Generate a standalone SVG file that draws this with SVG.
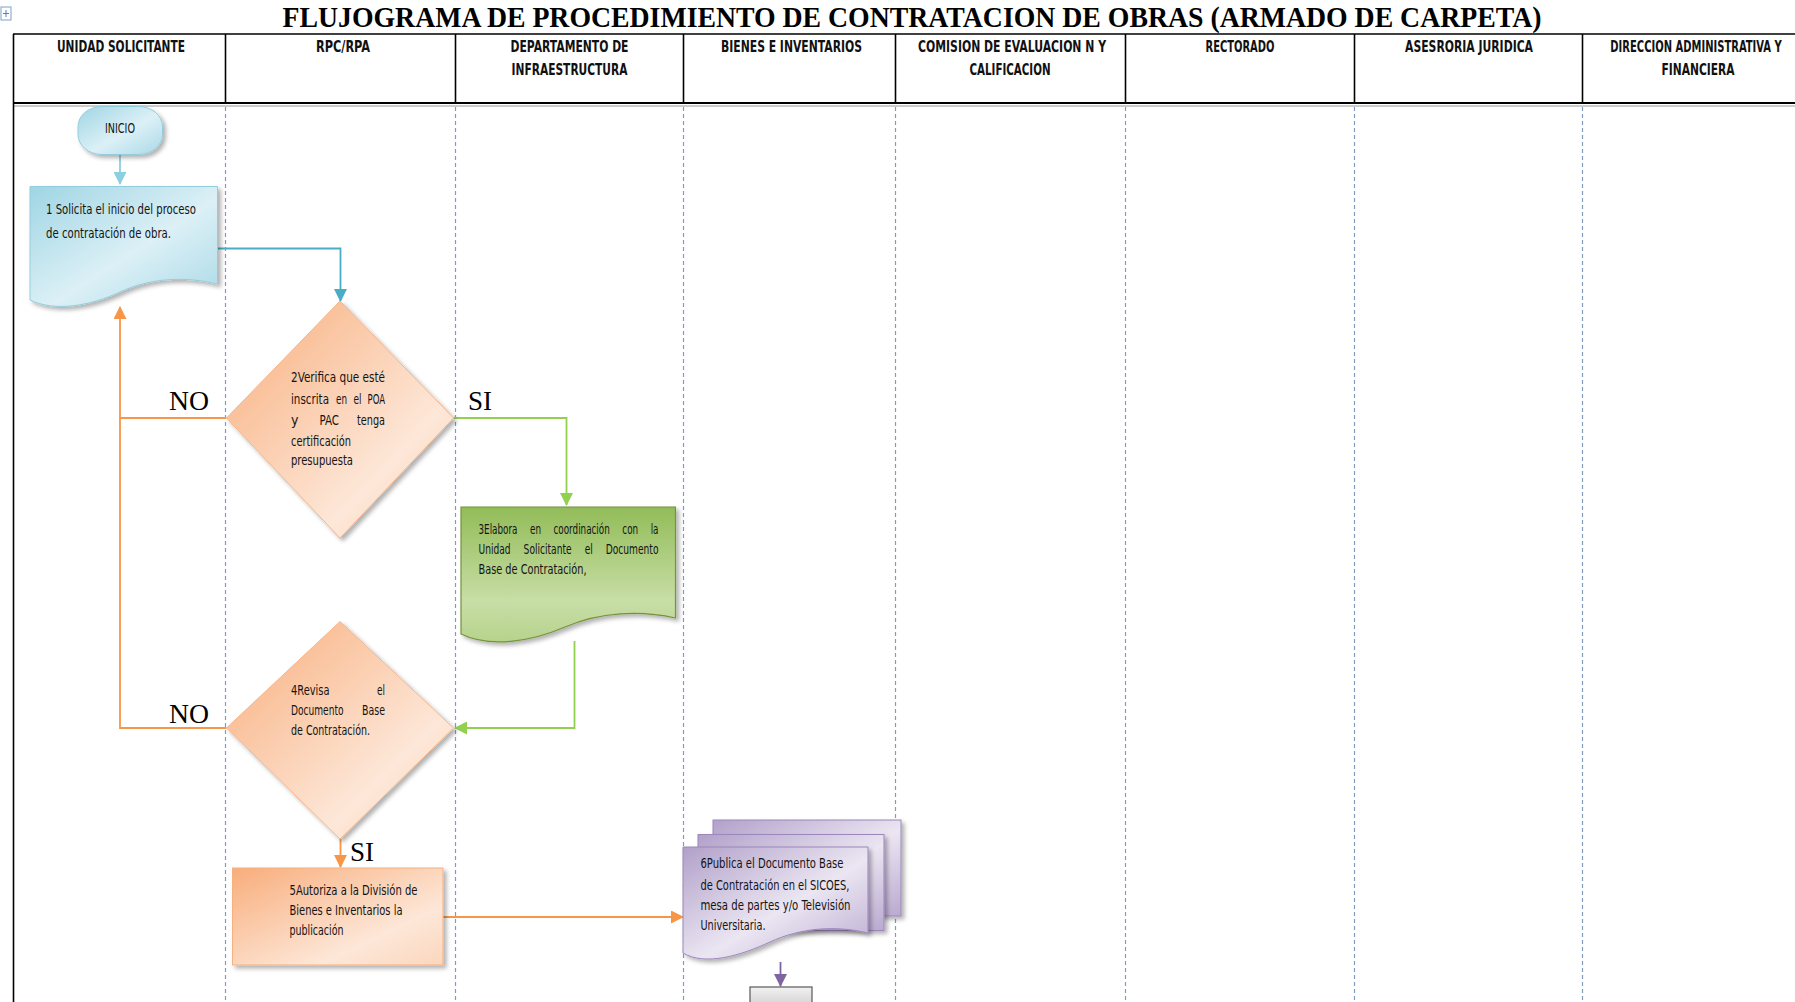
<svg xmlns="http://www.w3.org/2000/svg" width="1795" height="1002" viewBox="0 0 1795 1002">
  <style>
    .title { font-family: "Liberation Serif", "Times New Roman", serif; font-weight: bold; font-size: 30px; fill: #000; }
    .hdr { font-family: "Liberation Sans Narrow", "DejaVu Sans Condensed", "Liberation Sans", sans-serif; font-weight: bold; font-size: 15px; fill: #111; text-anchor: middle; }
    .txt { font-family: "Liberation Sans Narrow", "DejaVu Sans Condensed", "Liberation Sans", sans-serif; font-size: 14px; fill: #141414; }
    .just { word-spacing: 14px; }
    .lbl { font-family: "Liberation Serif", "Times New Roman", serif; font-size: 28px; fill: #000; }
    .lane { stroke: #8299c2; stroke-width: 1.2; stroke-dasharray: 4 3; fill: none; }
    .grid { stroke: #000; stroke-width: 1.6; fill: none; }
    .c-blue { stroke: #4bacc6; stroke-width: 1.8; fill: none; }
    .c-lblue { stroke: #8ccfe0; stroke-width: 1.8; fill: none; }
    .c-orange { stroke: #f79646; stroke-width: 1.8; fill: none; }
    .c-green { stroke: #92d050; stroke-width: 1.8; fill: none; }
    .c-purple { stroke: #8064a2; stroke-width: 1.8; fill: none; }
  </style>
  <defs>
    <linearGradient id="gBlue" x1="0" y1="0" x2="1" y2="1">
      <stop offset="0" stop-color="#9fd5e4"/>
      <stop offset="0.55" stop-color="#dcf0f6"/>
      <stop offset="1" stop-color="#a9d9e7"/>
    </linearGradient>
    <linearGradient id="gOrange" x1="0" y1="0" x2="1" y2="1">
      <stop offset="0" stop-color="#f8ad7b"/>
      <stop offset="0.7" stop-color="#fde7d8"/>
      <stop offset="1" stop-color="#fbd6bd"/>
    </linearGradient>
    <linearGradient id="gGreen" x1="0" y1="0" x2="0" y2="1">
      <stop offset="0" stop-color="#92bc58"/>
      <stop offset="0.7" stop-color="#c8dea6"/>
      <stop offset="1" stop-color="#b6d38c"/>
    </linearGradient>
    <linearGradient id="gPurple" x1="0" y1="0" x2="1" y2="1">
      <stop offset="0" stop-color="#b1a0c9"/>
      <stop offset="0.55" stop-color="#ebe6f2"/>
      <stop offset="1" stop-color="#b9a9cf"/>
    </linearGradient>
    <linearGradient id="gGrey" x1="0" y1="0" x2="0" y2="1">
      <stop offset="0" stop-color="#f2f2f2"/>
      <stop offset="1" stop-color="#bfbfbf"/>
    </linearGradient>
    <filter id="shadow" x="-10%" y="-10%" width="125%" height="125%">
      <feDropShadow dx="3" dy="3" stdDeviation="2" flood-color="#000" flood-opacity="0.3"/>
    </filter>
    <marker id="aBlue" markerWidth="13" markerHeight="13" refX="12" refY="6.5" orient="auto" markerUnits="userSpaceOnUse">
      <path d="M0,0 L13,6.5 L0,13 Z" fill="#4bacc6"/>
    </marker>
    <marker id="aLBlue" markerWidth="13" markerHeight="13" refX="12" refY="6.5" orient="auto" markerUnits="userSpaceOnUse">
      <path d="M0,0 L13,6.5 L0,13 Z" fill="#8ccfe0"/>
    </marker>
    <marker id="aOrange" markerWidth="13" markerHeight="13" refX="12" refY="6.5" orient="auto" markerUnits="userSpaceOnUse">
      <path d="M0,0 L13,6.5 L0,13 Z" fill="#f79646"/>
    </marker>
    <marker id="aGreen" markerWidth="13" markerHeight="13" refX="12" refY="6.5" orient="auto" markerUnits="userSpaceOnUse">
      <path d="M0,0 L13,6.5 L0,13 Z" fill="#92d050"/>
    </marker>
    <marker id="aPurple" markerWidth="13" markerHeight="13" refX="12" refY="6.5" orient="auto" markerUnits="userSpaceOnUse">
      <path d="M0,0 L13,6.5 L0,13 Z" fill="#8064a2"/>
    </marker>
  </defs>

  <rect width="1795" height="1002" fill="#fff"/>

  <!-- table move handle -->
  <g id="handle">
    <rect x="1" y="7" width="10" height="13" fill="#fff" stroke="#7fa0cc" stroke-width="1"/>
    <path d="M3,13.5 H9 M6,10 V17" stroke="#4f81bd" stroke-width="1"/>
  </g>

  <!-- title -->
  <text class="title" x="912" y="27" text-anchor="middle" textLength="1259" lengthAdjust="spacingAndGlyphs">FLUJOGRAMA DE PROCEDIMIENTO  DE CONTRATACION  DE OBRAS (ARMADO DE CARPETA)</text>

  <!-- swimlane grid -->
  <g id="grid">
    <line class="grid" x1="13" y1="34" x2="1795" y2="34"/>
    <line x1="13" y1="103" x2="1795" y2="103" stroke="#000" stroke-width="2"/>
    <line x1="13" y1="106" x2="1795" y2="106" stroke="#9a9a9a" stroke-width="1"/>
    <line class="grid" x1="13.5" y1="34" x2="13.5" y2="1002"/>
    <g class="grid">
      <line x1="225.5" y1="34" x2="225.5" y2="103"/>
      <line x1="455.5" y1="34" x2="455.5" y2="103"/>
      <line x1="683.5" y1="34" x2="683.5" y2="103"/>
      <line x1="895.5" y1="34" x2="895.5" y2="103"/>
      <line x1="1125.5" y1="34" x2="1125.5" y2="103"/>
      <line x1="1354.5" y1="34" x2="1354.5" y2="103"/>
      <line x1="1582.5" y1="34" x2="1582.5" y2="103"/>
    </g>
    <g class="lane">
      <line x1="225.5" y1="107" x2="225.5" y2="1002"/>
      <line x1="455.5" y1="107" x2="455.5" y2="1002"/>
      <line x1="683.5" y1="107" x2="683.5" y2="1002"/>
      <line x1="895.5" y1="107" x2="895.5" y2="1002"/>
      <line x1="1125.5" y1="107" x2="1125.5" y2="1002"/>
      <line x1="1354.5" y1="107" x2="1354.5" y2="1002"/>
      <line x1="1582.5" y1="107" x2="1582.5" y2="1002"/>
    </g>
  </g>

  <!-- lane headers -->
  <g id="headers">
    <text class="hdr" x="121" y="52" textLength="128" lengthAdjust="spacingAndGlyphs">UNIDAD SOLICITANTE</text>
    <text class="hdr" x="343" y="52" textLength="54" lengthAdjust="spacingAndGlyphs">RPC/RPA</text>
    <text class="hdr" x="569.5" y="52" textLength="118" lengthAdjust="spacingAndGlyphs">DEPARTAMENTO DE</text>
    <text class="hdr" x="569.5" y="75" textLength="116" lengthAdjust="spacingAndGlyphs">INFRAESTRUCTURA</text>
    <text class="hdr" x="791.5" y="52" textLength="141" lengthAdjust="spacingAndGlyphs">BIENES E INVENTARIOS</text>
    <text class="hdr" x="1012" y="52" textLength="188" lengthAdjust="spacingAndGlyphs">COMISION  DE EVALUACION N Y</text>
    <text class="hdr" x="1010" y="75" textLength="81" lengthAdjust="spacingAndGlyphs">CALIFICACION</text>
    <text class="hdr" x="1240" y="52" textLength="69" lengthAdjust="spacingAndGlyphs">RECTORADO</text>
    <text class="hdr" x="1469" y="52" textLength="128" lengthAdjust="spacingAndGlyphs">ASESRORIA  JURIDICA</text>
    <text class="hdr" transform="translate(1696,52) scale(0.74,1)" x="0" y="0">DIRECCION  ADMINISTRATIVA Y</text>
    <text class="hdr" x="1698" y="75" textLength="73" lengthAdjust="spacingAndGlyphs">FINANCIERA</text>
  </g>

  <!-- connectors -->
  <g id="connectors">
    <path class="c-lblue" d="M120,155 V184" marker-end="url(#aLBlue)"/>
    <path class="c-blue" d="M217.5,248.5 H340.5 V301" marker-end="url(#aBlue)"/>
    <path class="c-orange" d="M226.5,418 H120 V307" marker-end="url(#aOrange)"/>
    <path class="c-orange" d="M226.5,728 H120 V418"/>
    <path class="c-green" d="M453.5,418 H566.5 V505" marker-end="url(#aGreen)"/>
    <path class="c-green" d="M574.5,641 V728 H455" marker-end="url(#aGreen)"/>
    <path class="c-orange" d="M340.5,839 V867" marker-end="url(#aOrange)"/>
    <path class="c-orange" d="M443,917 H683" marker-end="url(#aOrange)"/>
    <path class="c-purple" d="M780.5,962 V986" marker-end="url(#aPurple)"/>
    <text class="lbl" x="169" y="410" textLength="40" lengthAdjust="spacingAndGlyphs">NO</text>
    <text class="lbl" x="468" y="410" textLength="24" lengthAdjust="spacingAndGlyphs">SI</text>
    <text class="lbl" x="169" y="723" textLength="40" lengthAdjust="spacingAndGlyphs">NO</text>
    <text class="lbl" x="350" y="861" textLength="24" lengthAdjust="spacingAndGlyphs">SI</text>
  </g>

  <!-- start -->
  <g id="n-inicio">
    <rect x="78" y="106.5" width="84.5" height="48" rx="24" ry="20" fill="url(#gBlue)" stroke="#93cddd" stroke-width="1" filter="url(#shadow)"/>
    <text class="txt" x="105" y="133" textLength="30" lengthAdjust="spacingAndGlyphs">INICIO</text>
  </g>

  <!-- step 1 -->
  <g id="n-1">
    <path d="M30,186.5 H217.5 V284 C185,276 150,278 120,292 C90,306 55,312 30,300 Z" fill="url(#gBlue)" stroke="#93cddd" stroke-width="1" filter="url(#shadow)"/>
    <text class="txt" x="46" y="214" textLength="150" lengthAdjust="spacingAndGlyphs">1 Solicita  el inicio  del proceso</text>
    <text class="txt" x="46" y="238" textLength="125" lengthAdjust="spacingAndGlyphs">de contratación  de obra.</text>
  </g>

  <!-- step 2: justified lines are set word by word -->
  <g id="n-2">
    <path d="M340,301 L453.5,418 L340,538 L226.5,418 Z" fill="url(#gOrange)" stroke="#f5b78b" stroke-width="1" filter="url(#shadow)"/>
    <text class="txt" x="291" y="381.5" textLength="94" lengthAdjust="spacingAndGlyphs">2Verifica que esté</text>
    <text class="txt" x="291" y="403.5" textLength="38" lengthAdjust="spacingAndGlyphs">inscrita</text>
    <text class="txt" x="336" y="403.5" textLength="11" lengthAdjust="spacingAndGlyphs">en</text>
    <text class="txt" x="353.5" y="403.5" textLength="8" lengthAdjust="spacingAndGlyphs">el</text>
    <text class="txt" x="367.5" y="403.5" textLength="17.5" lengthAdjust="spacingAndGlyphs">POA</text>
    <text class="txt" x="291" y="425">y</text>
    <text class="txt" x="319.5" y="425" textLength="19.5" lengthAdjust="spacingAndGlyphs">PAC</text>
    <text class="txt" x="357" y="425" textLength="28" lengthAdjust="spacingAndGlyphs">tenga</text>
    <text class="txt" x="291" y="445.5" textLength="60" lengthAdjust="spacingAndGlyphs">certificación</text>
    <text class="txt" x="291" y="465" textLength="62" lengthAdjust="spacingAndGlyphs">presupuesta</text>
  </g>

  <!-- step 3: justified lines widened with word spacing -->
  <g id="n-3">
    <path d="M461,507 H675.5 V618 C640,610 600,612 565,627 C530,642 490,648 461,634 Z" fill="url(#gGreen)" stroke="#76923c" stroke-width="1.2" filter="url(#shadow)"/>
    <text class="txt just" x="478.5" y="534" textLength="180" lengthAdjust="spacingAndGlyphs">3Elabora en coordinación con la</text>
    <text class="txt just" x="478.5" y="554" textLength="180" lengthAdjust="spacingAndGlyphs">Unidad Solicitante el Documento</text>
    <text class="txt" x="478.5" y="574" textLength="108" lengthAdjust="spacingAndGlyphs">Base de Contratación,</text>
  </g>

  <!-- step 4 -->
  <g id="n-4">
    <path d="M340,621.5 L453.5,728 L340,839 L226.5,728 Z" fill="url(#gOrange)" stroke="#f5b78b" stroke-width="1" filter="url(#shadow)"/>
    <text class="txt" x="291" y="695" textLength="38.5" lengthAdjust="spacingAndGlyphs">4Revisa</text>
    <text class="txt" x="377" y="695" textLength="8" lengthAdjust="spacingAndGlyphs">el</text>
    <text class="txt" x="291" y="715" textLength="52.5" lengthAdjust="spacingAndGlyphs">Documento</text>
    <text class="txt" x="362" y="715" textLength="23" lengthAdjust="spacingAndGlyphs">Base</text>
    <text class="txt" x="291" y="735" textLength="79" lengthAdjust="spacingAndGlyphs">de Contratación.</text>
  </g>

  <!-- step 5 -->
  <g id="n-5">
    <rect x="232.5" y="868" width="210.5" height="97" fill="url(#gOrange)" stroke="#f5b17f" stroke-width="1" filter="url(#shadow)"/>
    <text class="txt" x="289.5" y="895" textLength="128" lengthAdjust="spacingAndGlyphs">5Autoriza a la División  de</text>
    <text class="txt" x="289.5" y="915" textLength="113" lengthAdjust="spacingAndGlyphs">Bienes  e Inventarios la</text>
    <text class="txt" x="289.5" y="935" textLength="54" lengthAdjust="spacingAndGlyphs">publicación</text>
  </g>

  <!-- step 6 -->
  <g id="n-6">
    <rect x="713" y="820" width="188" height="96" fill="url(#gPurple)" stroke="#9c86bb" stroke-width="1" filter="url(#shadow)"/>
    <rect x="698" y="834.5" width="186" height="96" fill="url(#gPurple)" stroke="#9c86bb" stroke-width="1" filter="url(#shadow)"/>
    <path d="M683,847 H868 V933 C835,925 800,928 770,942 C740,956 705,966 683,953 Z" fill="url(#gPurple)" stroke="#9c86bb" stroke-width="1" filter="url(#shadow)"/>
    <text class="txt" x="700.5" y="868" textLength="143" lengthAdjust="spacingAndGlyphs">6Publica  el  Documento  Base</text>
    <text class="txt" x="700.5" y="890" textLength="149" lengthAdjust="spacingAndGlyphs">de Contratación  en el SICOES,</text>
    <text class="txt" x="700.5" y="910" textLength="150" lengthAdjust="spacingAndGlyphs">mesa de partes y/o Televisión</text>
    <text class="txt" x="700.5" y="930" textLength="65" lengthAdjust="spacingAndGlyphs">Universitaria.</text>
  </g>

  <!-- next step (continues below) -->
  <g id="n-7">
    <rect x="750" y="987" width="62" height="30" fill="url(#gGrey)" stroke="#595959" stroke-width="1.2"/>
  </g>
</svg>
